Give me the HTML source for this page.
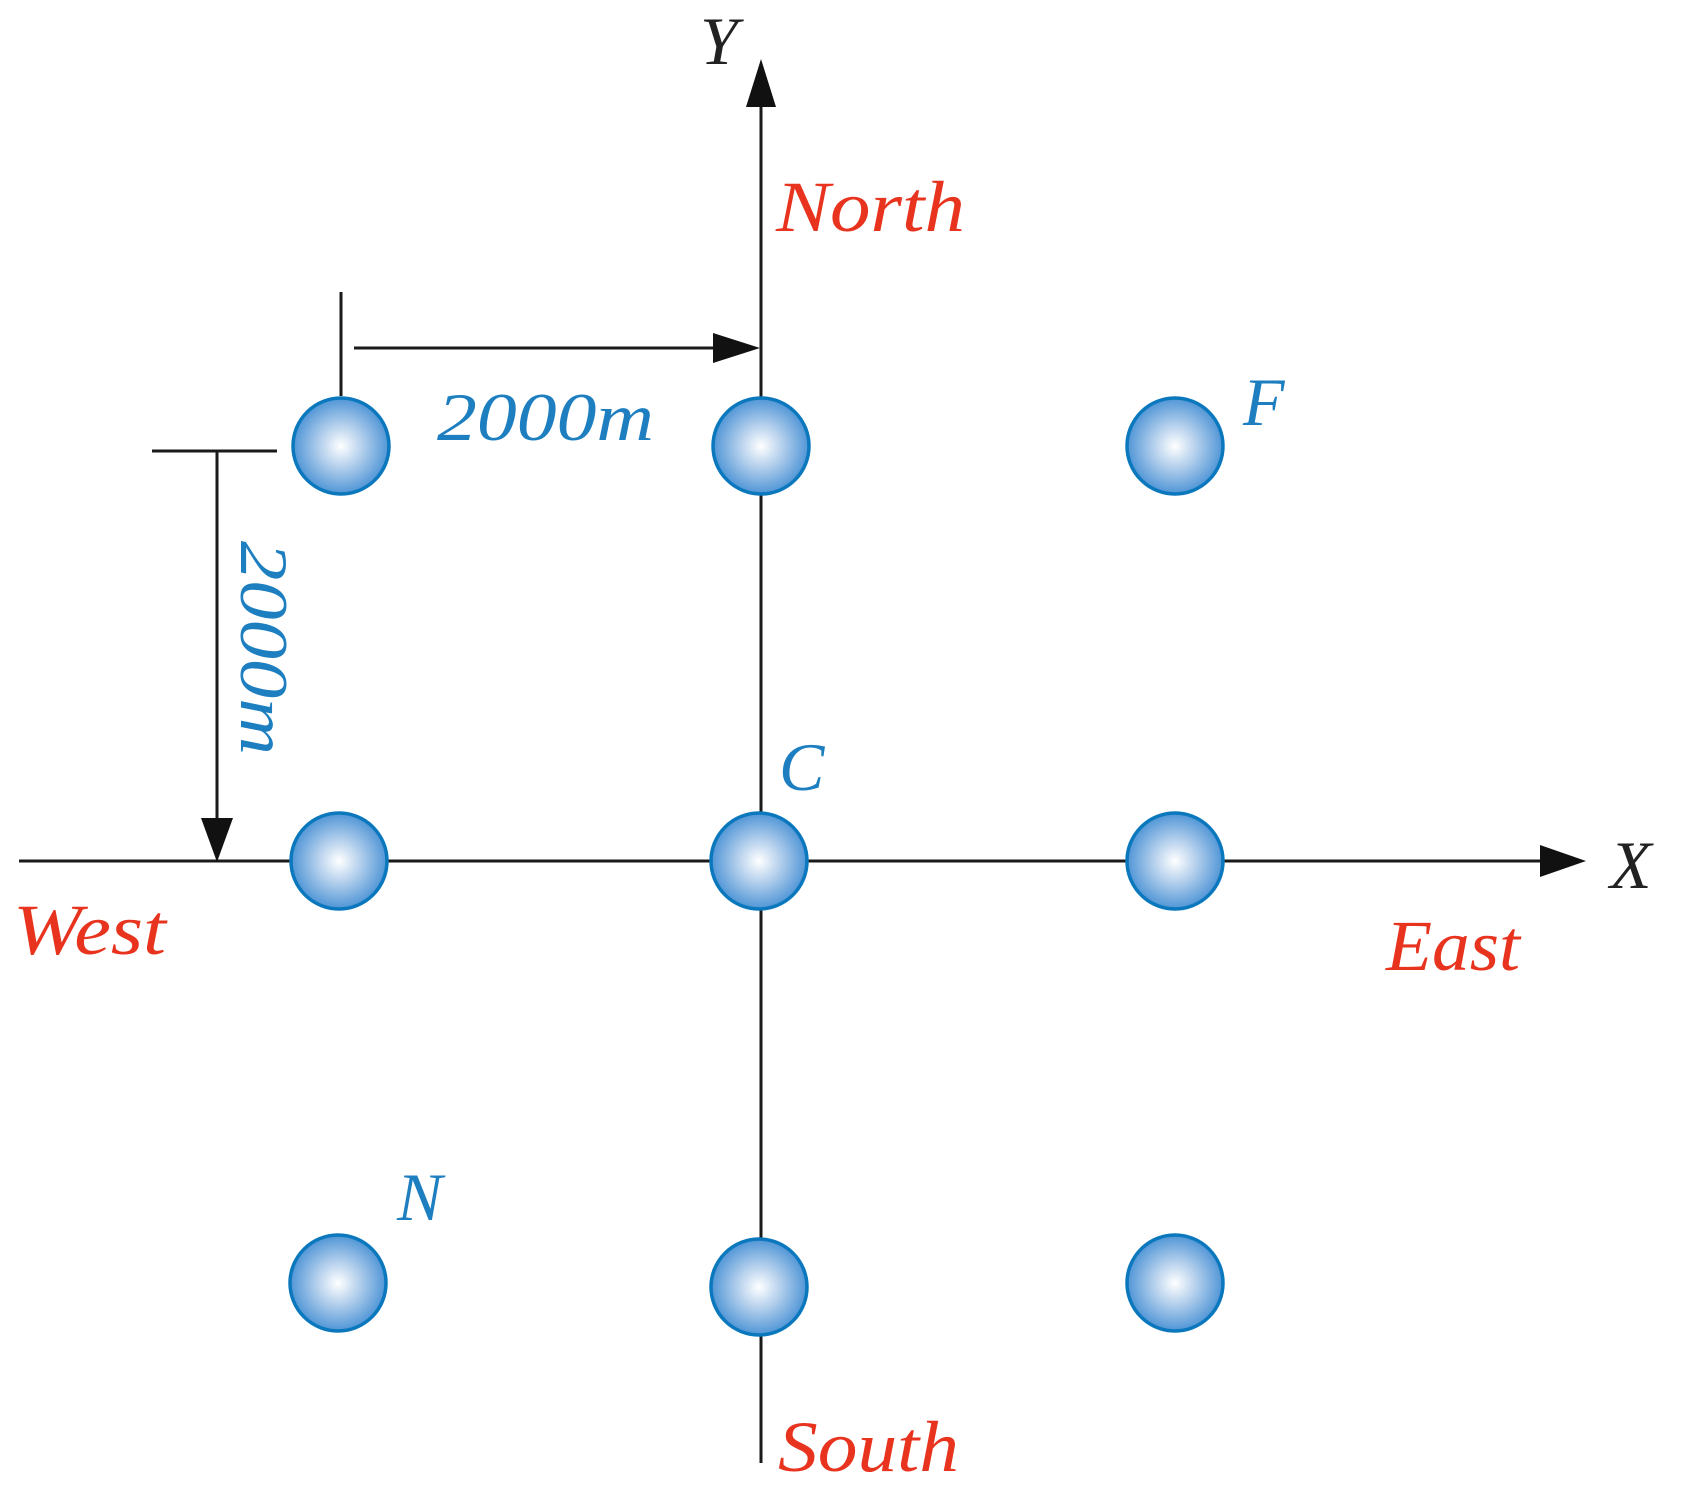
<!DOCTYPE html>
<html><head><meta charset="utf-8"><style>
html,body{margin:0;padding:0;background:#fff;}
svg{display:block;}
text{font-family:"Liberation Serif",serif;font-style:italic;}
</style></head><body>
<svg width="1681" height="1492" viewBox="0 0 1681 1492" xmlns="http://www.w3.org/2000/svg">
<defs>
<radialGradient id="g" cx="50%" cy="50%" r="50%">
<stop offset="0" stop-color="#ffffff"/>
<stop offset="0.45" stop-color="#b3cfec"/>
<stop offset="1" stop-color="#4f95d6"/>
</radialGradient>
</defs>
<g stroke="#1a1a1a" stroke-width="3" fill="none">
<line x1="761" y1="100" x2="761" y2="1463"/>
<line x1="19" y1="861" x2="1545" y2="861"/>
<line x1="341" y1="292" x2="341" y2="396"/>
<line x1="354" y1="348" x2="718" y2="348"/>
<line x1="152" y1="451" x2="277" y2="451"/>
<line x1="217" y1="451" x2="217" y2="825"/>
</g>
<g fill="#111">
<polygon points="761,59 746,107 776,107"/>
<polygon points="1586,861 1540,845 1540,877"/>
<polygon points="760,348 713,333 713,363"/>
<polygon points="217,862 201,818 233,818"/>
</g>
<g fill="url(#g)" stroke="#0b78bd" stroke-width="3.5">
<circle cx="341" cy="446" r="48"/>
<circle cx="761" cy="446" r="48"/>
<circle cx="1175" cy="446" r="48"/>
<circle cx="339" cy="861" r="48"/>
<circle cx="759" cy="861" r="48"/>
<circle cx="1175" cy="861" r="48"/>
<circle cx="338" cy="1283" r="48"/>
<circle cx="759" cy="1287" r="48"/>
<circle cx="1175" cy="1283" r="48"/>
</g>
<g fill="#e8341f" font-size="72">
<text x="776" y="231" textLength="189" lengthAdjust="spacingAndGlyphs">North</text>
<text x="13" y="954" textLength="153" lengthAdjust="spacingAndGlyphs">West</text>
<text x="1386" y="970" textLength="134" lengthAdjust="spacingAndGlyphs">East</text>
<text x="778" y="1471" textLength="181" lengthAdjust="spacingAndGlyphs">South</text>
</g>
<g fill="#1e7fc0" font-size="68">
<text x="437" y="440" textLength="217" lengthAdjust="spacingAndGlyphs">2000m</text>
<text x="1243" y="425">F</text>
<text x="779" y="790">C</text>
<text x="397" y="1220">N</text>
<text transform="translate(241,541) rotate(90)" textLength="214" lengthAdjust="spacingAndGlyphs">2000m</text>
</g>
<g fill="#222" font-size="68">
<text x="700" y="64">Y</text>
<text x="1610" y="888">X</text>
</g>
</svg>
</body></html>
